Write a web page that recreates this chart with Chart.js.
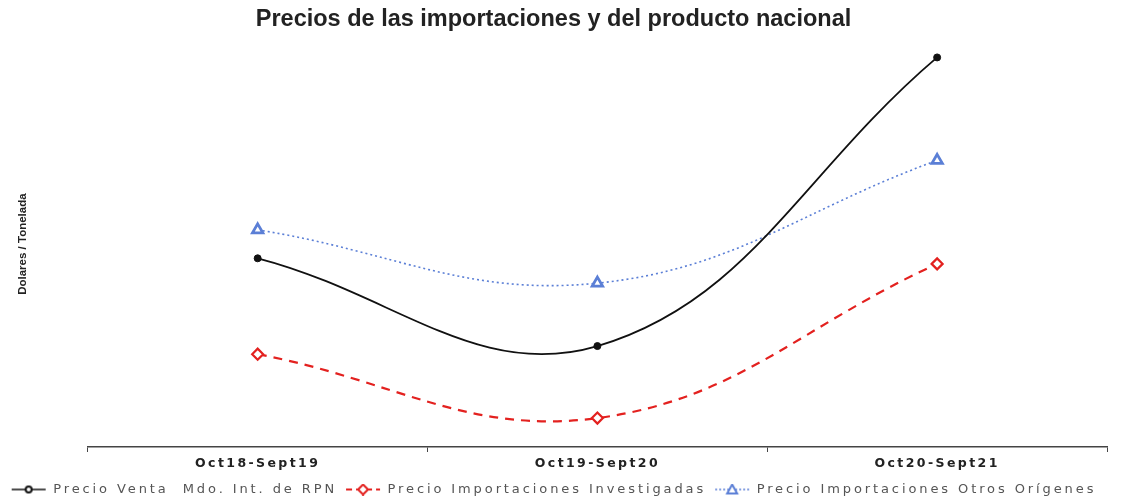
<!DOCTYPE html>
<html>
<head>
<meta charset="utf-8">
<script src="https://cdn.jsdelivr.net/npm/chart.js@4.4.1/dist/chart.umd.min.js"></script>
<style>
  html, body { margin: 0; padding: 0; background: #fff; }
  #wrap { width: 1124px; height: 497px; }
</style>
</head>
<body>
<div id="wrap"><canvas id="preciosChart"></canvas></div>
<script>
// periodos y precios (Dolares / Tonelada)
const periodos = ['Oct18-Sept19', 'Oct19-Sept20', 'Oct20-Sept21'];
const precioRPN = [872, 699, 1268];
const precioInvestigadas = [683, 557, 861];
const precioOtros = [928, 823, 1065];

const COLOR_NEGRO = '#111111';
const COLOR_ROJO = '#e3211f';
const COLOR_AZUL = '#5b7fd6';

// el grafico original tiene letras bastante espaciadas en leyenda y eje x
function conEspaciado(fn, espacio) {
    return function() {
        const c = this.ctx;
        const antes = c.letterSpacing;
        c.letterSpacing = espacio;
        const r = fn.apply(this, arguments);
        c.letterSpacing = antes;
        return r;
    };
}
if (Chart.Legend && Chart.Legend._element) {
    const L = Chart.Legend._element.prototype;
    L.fit = conEspaciado(L.fit, '2.9px');
    L.draw = conEspaciado(L.draw, '2.9px');
}
if (Chart.CategoryScale) {
    const S = Chart.CategoryScale.prototype;
    S.drawLabels = conEspaciado(S.drawLabels, '2.4px');
}

// icono de la leyenda: segmento de linea con su marcador
function iconoLeyenda(color, dash, ancho, forma) {
    const c = document.createElement('canvas');
    c.width = 36;
    c.height = 12;
    const ctx = c.getContext('2d');
    ctx.strokeStyle = color;
    ctx.lineWidth = ancho;
    ctx.setLineDash(dash);
    ctx.beginPath();
    ctx.moveTo(1, 6);
    ctx.lineTo(35, 6);
    ctx.stroke();
    ctx.setLineDash([]);
    ctx.lineWidth = 2;
    ctx.beginPath();
    ctx.fillStyle = '#fff';
    if (forma === 'circle') {
        ctx.arc(18, 6, 3, 0, Math.PI * 2);
    } else if (forma === 'rectRot') {
        ctx.moveTo(18, 1); ctx.lineTo(23, 6); ctx.lineTo(18, 11); ctx.lineTo(13, 6);
        ctx.closePath();
    } else {
        ctx.moveTo(18, 1); ctx.lineTo(23, 10); ctx.lineTo(13, 10);
        ctx.closePath();
    }
    ctx.fill();
    ctx.stroke();
    return c;
}

const iconos = [
    iconoLeyenda(COLOR_NEGRO, [], 1.5, 'circle'),
    iconoLeyenda(COLOR_ROJO, [6, 4], 2, 'rectRot'),
    iconoLeyenda(COLOR_AZUL, [2, 2], 1.5, 'triangle')
];

const ctx = document.getElementById('preciosChart').getContext('2d');

new Chart(ctx, {
    type: 'line',
    data: {
        labels: periodos,
        datasets: [
            {
                label: 'Precio Venta  Mdo. Int. de RPN',
                data: precioRPN,
                borderColor: COLOR_NEGRO,
                backgroundColor: COLOR_NEGRO,
                borderWidth: 1.8,
                tension: 0.4,
                pointStyle: 'circle',
                pointRadius: 3.5,
                pointBackgroundColor: COLOR_NEGRO,
                pointBorderColor: COLOR_NEGRO,
                pointBorderWidth: 1
            },
            {
                label: 'Precio Importaciones Investigadas',
                data: precioInvestigadas,
                borderColor: COLOR_ROJO,
                backgroundColor: COLOR_ROJO,
                borderWidth: 2.2,
                borderDash: [9, 7],
                tension: 0.4,
                pointStyle: 'rectRot',
                pointRadius: 5.5,
                pointBackgroundColor: '#ffffff',
                pointBorderColor: COLOR_ROJO,
                pointBorderWidth: 2.2
            },
            {
                label: 'Precio Importaciones Otros Orígenes',
                data: precioOtros,
                borderColor: COLOR_AZUL,
                backgroundColor: COLOR_AZUL,
                borderWidth: 1.6,
                borderDash: [2, 3],
                tension: 0.4,
                pointStyle: 'triangle',
                pointRadius: 6,
                pointBackgroundColor: '#ffffff',
                pointBorderColor: COLOR_AZUL,
                pointBorderWidth: 2.8
            }
        ]
    },
    options: {
        responsive: true,
        maintainAspectRatio: false,
        animation: false,
        layout: {
            padding: { top: 5, right: 17, left: 0, bottom: -9 }
        },
        plugins: {
            title: {
                display: true,
                text: 'Precios de las importaciones y del producto nacional',
                color: '#222',
                font: { family: 'Arial, "Liberation Sans", sans-serif', size: 23.5, weight: 'bold' },
                padding: { top: 0, bottom: 8 }
            },
            legend: {
                position: 'bottom',
                labels: {
                    color: '#555',
                    font: { family: '"DejaVu Sans", sans-serif', size: 13 },
                    usePointStyle: true,
                    pointStyleWidth: 36,
                    boxHeight: 12,
                    padding: 8,
                    generateLabels: function(chart) {
                        return chart.data.datasets.map((ds, i) => ({
                            text: ds.label,
                            pointStyle: iconos[i],
                            fillStyle: 'transparent',
                            strokeStyle: 'transparent',
                            lineWidth: 0,
                            fontColor: '#555',
                            hidden: false,
                            datasetIndex: i
                        }));
                    }
                }
            },
            tooltip: { enabled: false }
        },
        scales: {
            x: {
                offset: true,
                grid: {
                    display: true,
                    drawOnChartArea: false,
                    offset: true,
                    tickLength: 5,
                    color: '#444'
                },
                border: { display: true, color: '#444', width: 1.5 },
                ticks: {
                    color: '#222',
                    padding: 4,
                    font: { family: '"DejaVu Sans", sans-serif', size: 12.5, weight: 'bold' }
                }
            },
            y: {
                min: 500,
                max: 1300,
                grid: { display: false },
                border: { display: false },
                ticks: { display: false },
                title: {
                    display: true,
                    text: 'Dolares / Tonelada',
                    color: '#222',
                    font: { family: '"Liberation Sans Narrow", "Arial Narrow", Arial, sans-serif', size: 11.5, weight: 'bold' },
                    padding: { top: 16, bottom: 50 }
                }
            }
        }
    }
});
</script>
</body>
</html>
